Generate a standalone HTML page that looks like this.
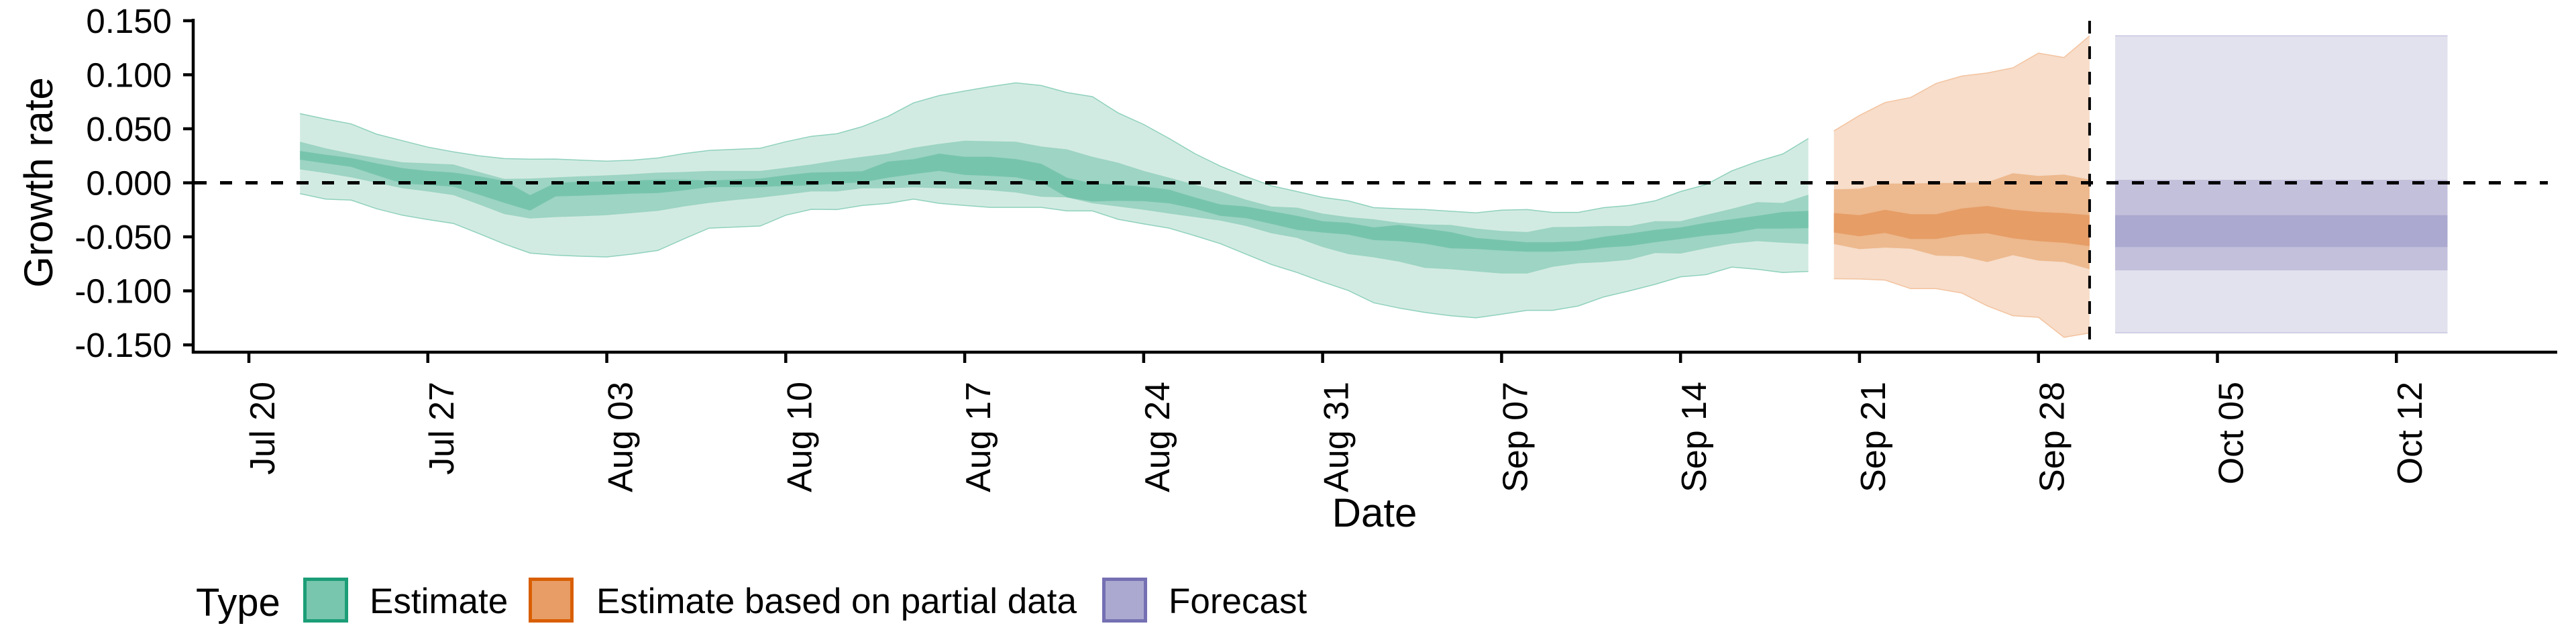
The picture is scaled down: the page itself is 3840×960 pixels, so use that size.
<!DOCTYPE html>
<html><head><meta charset="utf-8"><style>
html,body{margin:0;padding:0;background:#fff;}
svg{display:block;font-family:"Liberation Sans",Arial,sans-serif;}
</style></head><body>
<svg id="chart" width="3840" height="960" viewBox="0 0 3840 960" xmlns="http://www.w3.org/2000/svg">
<g id="bands"></g>
<g id="axes"></g>
<text transform="translate(78,272) rotate(-90)" text-anchor="middle" font-size="60">Growth rate</text>
<text x="2049" y="785" text-anchor="middle" font-size="60">Date</text>
<g>
<text x="292" y="918" font-size="58">Type</text>
<rect x="454.5" y="863.5" width="62" height="62" fill="#78c6ad" stroke="#1b9e77" stroke-width="5"/>
<text x="551" y="914" font-size="53">Estimate</text>
<rect x="790.5" y="863.5" width="62" height="62" fill="#e89d66" stroke="#d95f02" stroke-width="5"/>
<text x="889" y="914" font-size="53">Estimate based on partial data</text>
<rect x="1645.5" y="863.5" width="62" height="62" fill="#aba9cf" stroke="#7570b3" stroke-width="5"/>
<text x="1742" y="914" font-size="53">Forecast</text>
</g>
</svg>
<script>
const startDate = "Jul 20";
const tickLabels = ["Jul 20","Jul 27","Aug 03","Aug 10","Aug 17","Aug 24","Aug 31","Sep 07","Sep 14","Sep 21","Sep 28","Oct 05","Oct 12"];
const tickDays = [0,7,14,21,28,35,42,49,56,63,70,77,84];
const yTicks = [0.15,0.1,0.05,0,-0.05,-0.1,-0.15];
const yTickLabels = ["0.150","0.100","0.050","0.000","-0.050","-0.100","-0.150"];
const estDays = [2,3,4,5,6,7,8,9,10,11,12,13,14,15,16,17,18,19,20,21,22,23,24,25,26,27,28,29,30,31,32,33,34,35,36,37,38,39,40,41,42,43,44,45,46,47,48,49,50,51,52,53,54,55,56,57,58,59,60,61];
const estUpper90 = [0.064,0.059,0.0545,0.045,0.039,0.033,0.0286,0.025,0.0224,0.0219,0.022,0.021,0.020,0.021,0.023,0.027,0.030,0.031,0.032,0.038,0.043,0.0454,0.052,0.0615,0.074,0.0807,0.085,0.089,0.0925,0.090,0.0835,0.0797,0.0647,0.054,0.041,0.027,0.0154,0.0058,-0.0028,-0.0081,-0.0135,-0.0167,-0.023,-0.024,-0.0248,-0.0263,-0.0278,-0.0253,-0.0248,-0.0274,-0.0274,-0.023,-0.021,-0.0167,-0.0081,-0.0017,0.011,0.0197,0.0267,0.041];
const estLower90 = [-0.010,-0.015,-0.016,-0.024,-0.030,-0.034,-0.0376,-0.047,-0.0567,-0.065,-0.067,-0.068,-0.0686,-0.066,-0.0626,-0.052,-0.042,-0.041,-0.040,-0.030,-0.0245,-0.0248,-0.021,-0.019,-0.015,-0.019,-0.021,-0.0227,-0.0227,-0.0227,-0.026,-0.026,-0.0338,-0.038,-0.042,-0.049,-0.0563,-0.066,-0.0756,-0.083,-0.0917,-0.0996,-0.111,-0.116,-0.120,-0.123,-0.125,-0.1216,-0.118,-0.118,-0.114,-0.1056,-0.100,-0.094,-0.087,-0.085,-0.078,-0.080,-0.083,-0.082];
const estUpper50 = [0.038,0.032,0.027,0.023,0.019,0.018,0.017,0.010,0.0036,0.004,0.005,0.006,0.0069,0.008,0.0095,0.010,0.011,0.011,0.011,0.014,0.017,0.0208,0.024,0.027,0.0325,0.036,0.039,0.0385,0.038,0.0336,0.031,0.024,0.0186,0.011,0.0047,-0.0017,-0.008,-0.0156,-0.022,-0.023,-0.0285,-0.0317,-0.0338,-0.037,-0.0385,-0.039,-0.0424,-0.0445,-0.0456,-0.041,-0.0407,-0.040,-0.040,-0.0355,-0.0355,-0.0296,-0.024,-0.0178,-0.0186,-0.011];
const estLower50 = [0.0124,0.009,0.005,0.000,-0.005,-0.008,-0.0114,-0.020,-0.029,-0.033,-0.0317,-0.031,-0.030,-0.028,-0.026,-0.022,-0.0186,-0.016,-0.0138,-0.011,-0.008,-0.008,-0.005,-0.005,-0.0043,-0.005,-0.0056,-0.007,-0.009,-0.013,-0.0135,-0.019,-0.022,-0.025,-0.0285,-0.0317,-0.035,-0.040,-0.0467,-0.051,-0.0595,-0.066,-0.069,-0.073,-0.0788,-0.080,-0.082,-0.084,-0.084,-0.0777,-0.0745,-0.0734,-0.0713,-0.065,-0.0655,-0.0606,-0.0563,-0.054,-0.0555,-0.0567];
const estUpper20 = [0.0295,0.026,0.023,0.018,0.0136,0.011,0.0095,0.006,0.0017,-0.0114,0.000,0.001,0.0012,0.002,0.003,0.003,0.002,0.003,0.004,0.007,0.0095,0.010,0.0107,0.0197,0.0218,0.027,0.024,0.024,0.022,0.0176,0.0047,-0.0006,-0.0017,-0.0034,-0.0064,-0.0135,-0.020,-0.022,-0.0263,-0.0306,-0.0355,-0.037,-0.0413,-0.039,-0.0424,-0.0456,-0.051,-0.053,-0.055,-0.055,-0.054,-0.0499,-0.047,-0.0435,-0.0413,-0.037,-0.0338,-0.0306,-0.027,-0.026];
const estLower20 = [0.0214,0.018,0.0148,0.007,-0.0007,-0.002,-0.0036,-0.011,-0.0186,-0.0257,-0.0126,-0.012,-0.011,-0.010,-0.0095,-0.007,-0.004,-0.004,-0.0038,-0.003,-0.0024,-0.0006,0.0004,0.0047,0.008,0.011,0.0073,0.0064,0.005,0.0004,-0.0135,-0.0173,-0.0167,-0.017,-0.019,-0.024,-0.0306,-0.0328,-0.038,-0.0435,-0.046,-0.048,-0.053,-0.054,-0.0563,-0.0606,-0.0612,-0.0627,-0.0638,-0.0638,-0.0627,-0.060,-0.0585,-0.055,-0.052,-0.0488,-0.0467,-0.0424,-0.0424,-0.042];
const partDays = [62,63,64,65,66,67,68,69,70,71,72];
const partUpper90 = [0.048,0.0624,0.0743,0.079,0.092,0.0988,0.1017,0.1064,0.120,0.116,0.136];
const partLower90 = [-0.0888,-0.089,-0.090,-0.098,-0.098,-0.102,-0.114,-0.123,-0.1245,-0.143,-0.139];
const partUpper50 = [-0.006,-0.0055,-0.0007,-0.0007,-0.0002,-0.0002,0.0005,0.0088,0.0064,0.0076,0.0029];
const partLower50 = [-0.0567,-0.0614,-0.060,-0.061,-0.0674,-0.068,-0.0733,-0.067,-0.072,-0.0733,-0.080];
const partUpper20 = [-0.028,-0.030,-0.025,-0.029,-0.029,-0.0238,-0.0214,-0.025,-0.027,-0.028,-0.030];
const partLower20 = [-0.046,-0.0495,-0.0464,-0.052,-0.052,-0.048,-0.0467,-0.0514,-0.054,-0.0555,-0.0586];
const fcDays = [73,86];
const fcUpper90 = [0.136,0.136];
const fcLower90 = [-0.1388,-0.1388];
const fcUpper50 = [0.0028,0.0028];
const fcLower50 = [-0.081,-0.081];
const fcUpper20 = [-0.030,-0.030];
const fcLower20 = [-0.0594,-0.0594];
const cutoffDay = 72;

const NS = "http://www.w3.org/2000/svg";
const X0 = 371, DX = 38.11, Y0 = 272.5, KY = 1610.7;
function xs(d){ return X0 + d*DX; }
function ys(v){ return Y0 - v*KY; }
function mk(tag, attrs, parent){
  const e = document.createElementNS(NS, tag);
  for (const k in attrs) e.setAttribute(k, attrs[k]);
  parent.appendChild(e); return e;
}
const bands = document.getElementById('bands');
const axes = document.getElementById('axes');
function ribbon(days, up, lo, fill, name, stroke){
  let pts = [];
  for (let i=0;i<days.length;i++) pts.push(xs(days[i]).toFixed(1)+','+ys(up[i]).toFixed(1));
  for (let i=days.length-1;i>=0;i--) pts.push(xs(days[i]).toFixed(1)+','+ys(lo[i]).toFixed(1));
  const p = mk('polygon', {points: pts.join(' '), fill: fill}, bands);
  
  
  if (stroke){
    [up, lo].forEach((arr, j) => {
      const l = mk('polyline', {points: days.map((d,i)=>xs(d).toFixed(1)+','+ys(arr[i]).toFixed(1)).join(' '), fill:'none', stroke: stroke, 'stroke-width': 1.5}, bands);
      
      
    });
  }
}
ribbon(estDays, estUpper90, estLower90, '#d2ebe2', 'estimate-band-90', '#8fd1bd');
ribbon(estDays, estUpper50, estLower50, '#9dd4c3', 'estimate-band-50');
ribbon(estDays, estUpper20, estLower20, '#77c4ac', 'estimate-band-20');
ribbon(partDays, partUpper90, partLower90, '#f7ddca', 'partial-band-90', '#f3c39f');
ribbon(partDays, partUpper50, partLower50, '#edb98e', 'partial-band-50');
ribbon(partDays, partUpper20, partLower20, '#e69d66', 'partial-band-20');
ribbon(fcDays, fcUpper90, fcLower90, '#e2e2ee', 'forecast-band-90', '#c8c6e0');
ribbon(fcDays, fcUpper50, fcLower50, '#c3c0dc', 'forecast-band-50');
ribbon(fcDays, fcUpper20, fcLower20, '#aba9cf', 'forecast-band-20');

// zero reference line
const zl = mk('line', {x1: 290, x2: 3798, y1: ys(0), y2: ys(0), stroke:'#000', 'stroke-width':5, 'stroke-dasharray':'18 20'}, axes);


// cutoff vertical line
const vl = mk('line', {x1: xs(cutoffDay), x2: xs(cutoffDay), y1: 31, y2: 525, stroke:'#000', 'stroke-width':4, 'stroke-dasharray':'19 19'}, axes);


// axis lines
const ya = mk('line', {x1:288, x2:288, y1:28, y2:527, stroke:'#000', 'stroke-width':4.5}, axes);


const xa = mk('line', {x1:286, x2:3812, y1:525, y2:525, stroke:'#000', 'stroke-width':4.5}, axes);


yTicks.forEach((v,i) => {
  const t = mk('line', {x1:273, x2:288, y1:ys(v), y2:ys(v), stroke:'#000', 'stroke-width':4.5}, axes);
  
  
  const lb = mk('text', {x:256, y:ys(v)+18, 'text-anchor':'end', 'font-size':51}, axes);
  lb.textContent = yTickLabels[i];
  
  
});
tickDays.forEach((d,i) => {
  const x = xs(d);
  const t = mk('line', {x1:x, x2:x, y1:525, y2:541, stroke:'#000', 'stroke-width':4.5}, axes);
  
  
  const lb = mk('text', {transform:'translate('+(x+38).toFixed(1)+',569) rotate(-90)', 'text-anchor':'end', 'font-size':52}, axes);
  lb.textContent = tickLabels[i];
  
  
});
</script>
</body></html>
